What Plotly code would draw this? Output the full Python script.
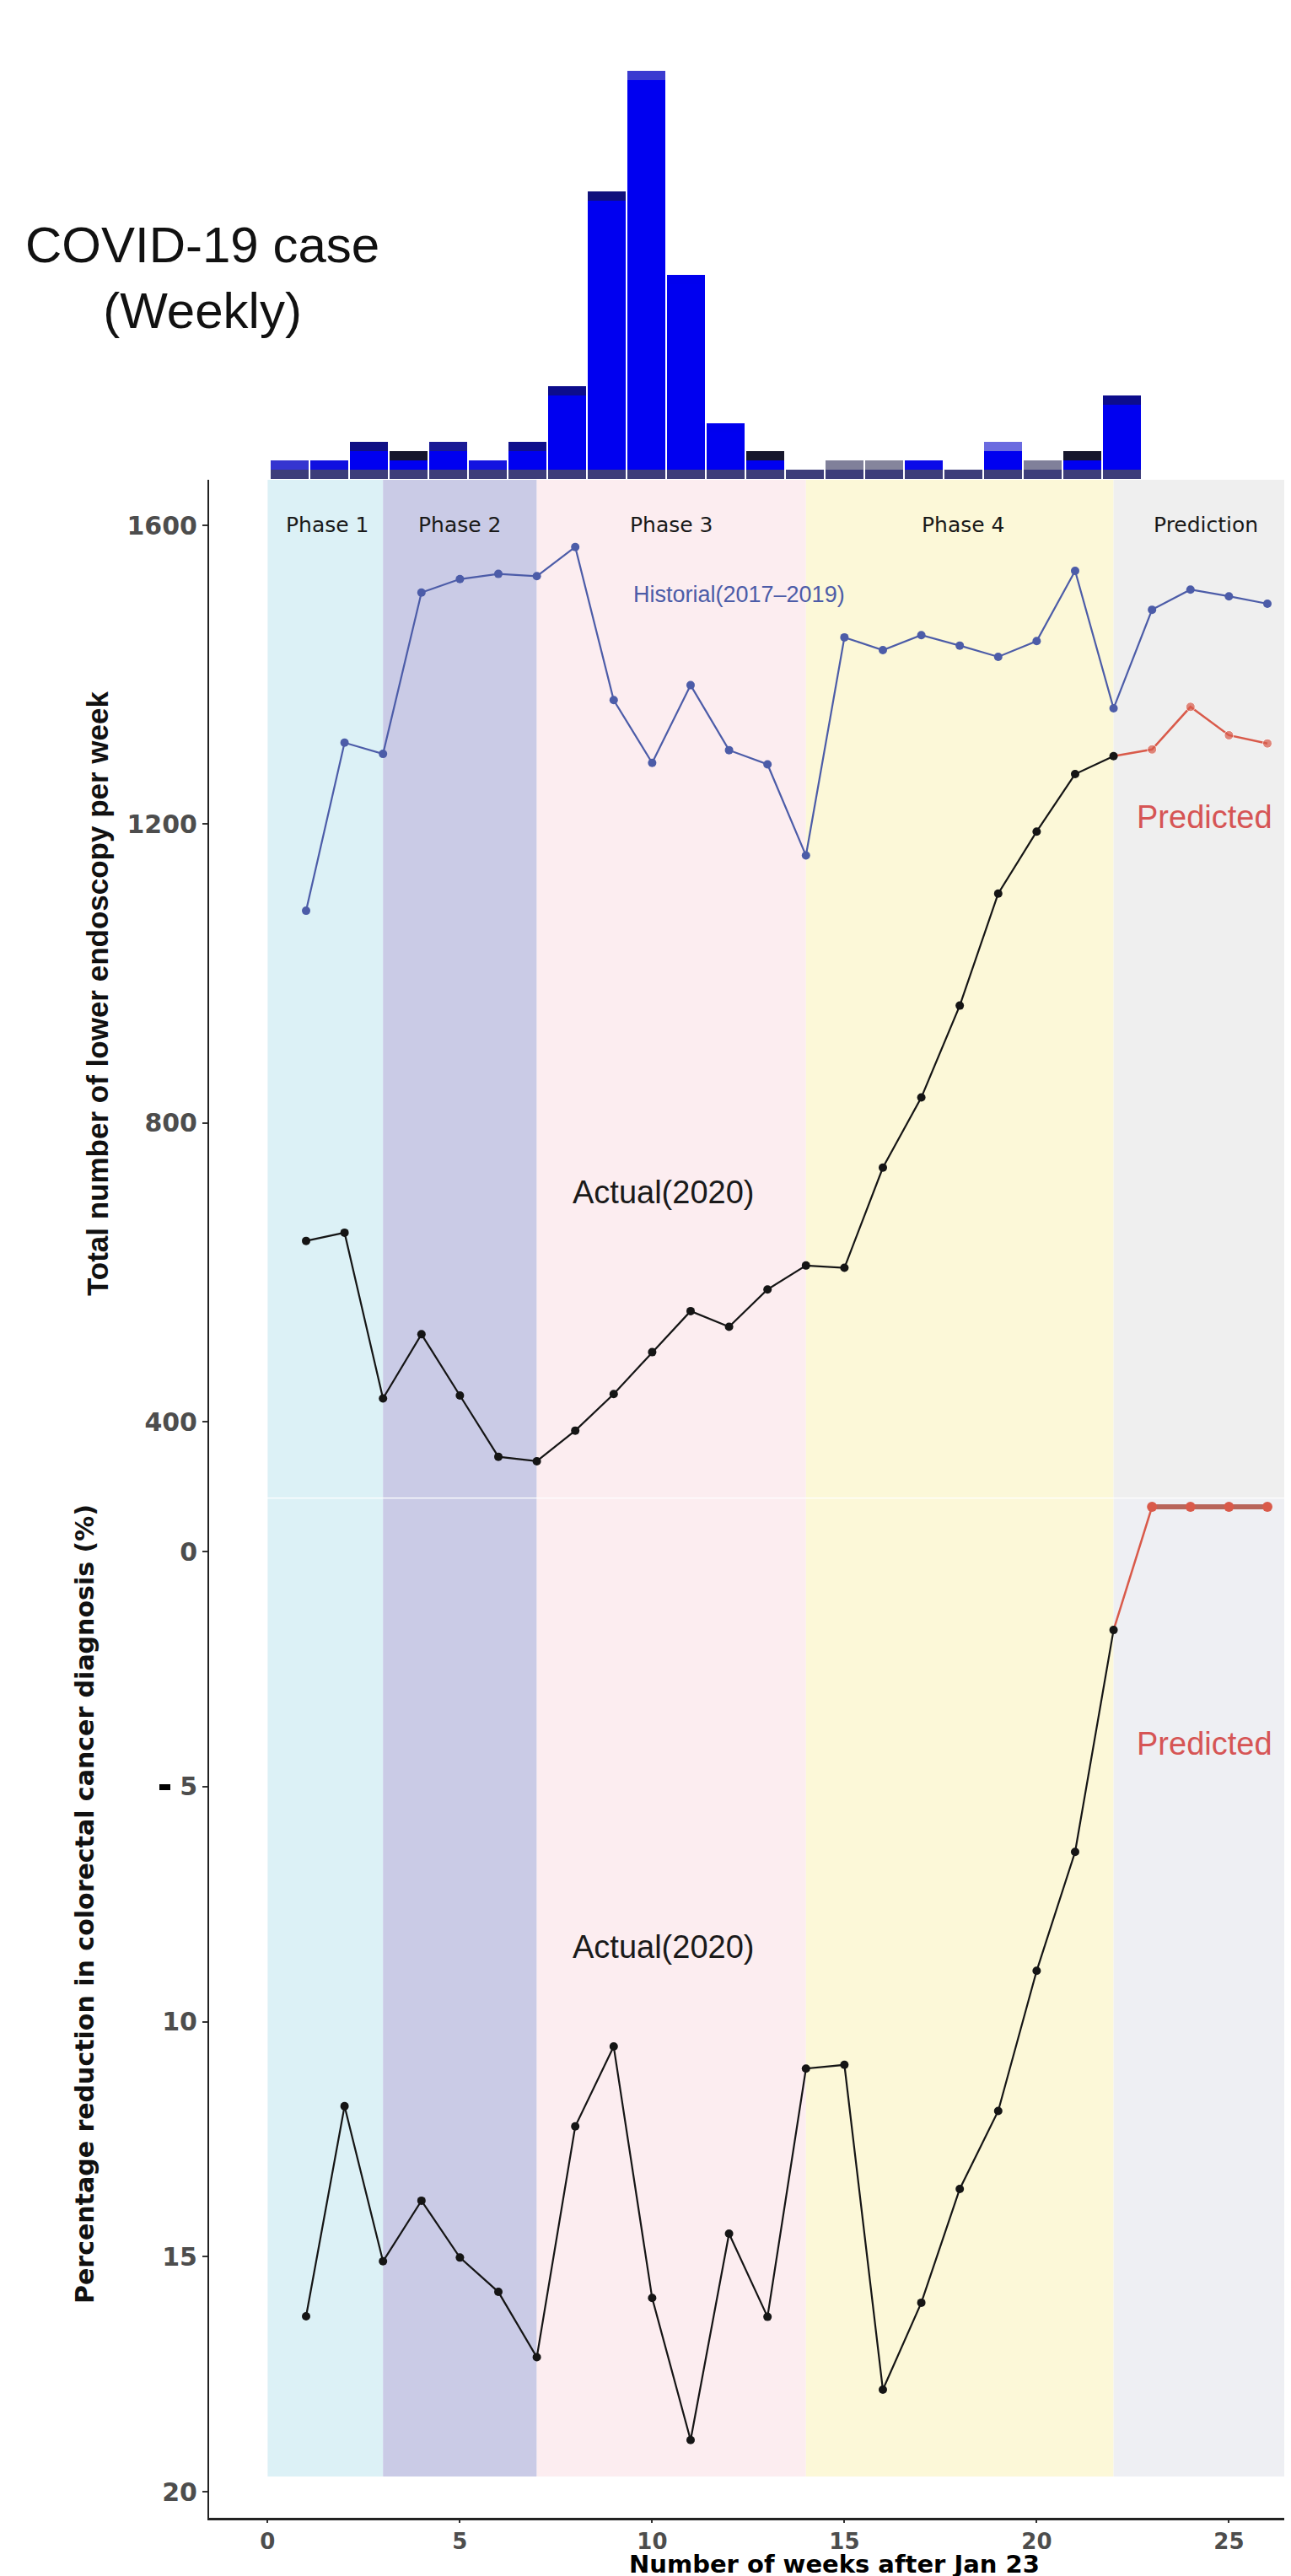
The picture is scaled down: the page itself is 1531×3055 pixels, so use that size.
import plotly.graph_objects as go

W, H = 1531, 3055

# ---------------- data ----------------
weeks = list(range(1, 23))            # weeks with observed data
pred_weeks = [23, 24, 25, 26]         # prediction weeks
hist_weeks = list(range(1, 27))

historical = [1084, 1309, 1294, 1510, 1528, 1535, 1532, 1571, 1366, 1282,
              1386, 1299, 1280, 1158, 1450, 1433, 1453, 1439, 1424, 1445,
              1539, 1355, 1487, 1514, 1505, 1495]
actual_endo = [642, 653, 431, 517, 435, 353, 347, 388, 437, 493,
               548, 527, 577, 609, 606, 740, 834, 957, 1107, 1190,
               1267, 1291]
pred_endo = [1300, 1357, 1319, 1308]

actual_crc = [16.27, 11.80, 15.10, 13.81, 15.02, 15.75, 17.14, 12.23, 10.53, 15.88,
              18.90, 14.51, 16.28, 11.00, 10.92, 17.83, 15.98, 13.56, 11.90, 8.92,
              6.39, 1.67]
pred_crc = [-0.95, -0.95, -0.95, -0.95]

# weekly COVID-19 cases (relative level, no axis in the original)
case_weeks = list(range(1, 23))
covid_cases = [2, 2, 4, 3, 4, 2, 4, 10, 31, 44, 22, 6, 3, 1, 2, 2, 2, 1, 4, 2, 3, 9]

phase_names = ["Phase 1", "Phase 2", "Phase 3", "Phase 4", "Prediction"]
phase_edges = [0, 3, 7, 14, 22, 26.6]

top_ticks = [400, 800, 1200, 1600]
bot_ticks = [0, 5, 10, 15, 20]
x_ticks = [0, 5, 10, 15, 20, 25]

# ---------------- styles ----------------
band_top = ["#dcf1f6", "#cacbe6", "#fcedf0", "#fcf8d8", "#efefef"]
band_bot = ["#dcf1f6", "#cacbe6", "#fcedf0", "#fcf8d8", "#eeeff3"]
cap_colors = ["#3535d0", "#1010e0", "#101085", "#16162c", "#1a1a95", "#1414e0", "#10108c",
              "#0c0c8c", "#10107c", "#3a3ad0", "#0000ee", "#0000ee", "#16162c", "#3d3d6a",
              "#80809a", "#85859c", "#0a0ae8", "#3d3d6a", "#6b6be0", "#80809a", "#16162c",
              "#0c0c8c"]
HIST_C = "#4c5ca8"
ACT_C = "#151515"
PRED_C = "#d95a4a"
SANS = "Liberation Sans, Arial, sans-serif"


def px(x):
    return x / W


def py(y):
    return 1 - y / H


fig = go.Figure()

# ---------------- COVID bars (stacked: base strip, body, cap) ----------------
base = [1 for _ in covid_cases]
body = [max(c - 2, 0) for c in covid_cases]
cap = [1 if c >= 2 else 0 for c in covid_cases]
fig.add_trace(go.Bar(x=case_weeks, y=base, marker=dict(color="#3d3d7a", line_width=0),
                     xaxis="x2", yaxis="y3", showlegend=False))
fig.add_trace(go.Bar(x=case_weeks, y=body, marker=dict(color="#0000f0", line_width=0),
                     xaxis="x2", yaxis="y3", showlegend=False))
fig.add_trace(go.Bar(x=case_weeks, y=cap, marker=dict(color=cap_colors, line_width=0),
                     xaxis="x2", yaxis="y3", showlegend=False))

# ---------------- top panel lines ----------------
fig.add_trace(go.Scatter(x=hist_weeks, y=historical, mode="lines+markers",
                         line=dict(color=HIST_C, width=2.2),
                         marker=dict(color=HIST_C, size=10),
                         xaxis="x", yaxis="y", showlegend=False))
fig.add_trace(go.Scatter(x=[weeks[-1]] + pred_weeks, y=[actual_endo[-1]] + pred_endo,
                         mode="lines+markers", line=dict(color=PRED_C, width=2.5),
                         marker=dict(color=PRED_C, size=[0] + [11] * len(pred_weeks)),
                         xaxis="x", yaxis="y", showlegend=False))
fig.add_trace(go.Scatter(x=weeks, y=actual_endo, mode="lines+markers",
                         line=dict(color=ACT_C, width=2.2),
                         marker=dict(color=ACT_C, size=10),
                         xaxis="x", yaxis="y", showlegend=False))

# ---------------- bottom panel lines ----------------
fig.add_trace(go.Scatter(x=[weeks[-1]] + pred_weeks, y=[actual_crc[-1]] + pred_crc,
                         mode="lines", line=dict(color=PRED_C, width=2.5),
                         xaxis="x", yaxis="y2", showlegend=False))
fig.add_trace(go.Scatter(x=pred_weeks, y=pred_crc, mode="lines+markers",
                         line=dict(color="#b8655a", width=6),
                         marker=dict(color=PRED_C, size=12),
                         xaxis="x", yaxis="y2", showlegend=False))
fig.add_trace(go.Scatter(x=weeks, y=actual_crc, mode="lines+markers",
                         line=dict(color=ACT_C, width=2.2),
                         marker=dict(color=ACT_C, size=10),
                         xaxis="x", yaxis="y2", showlegend=False))

# ---------------- phase bands ----------------
shapes = []
for i in range(len(phase_names)):
    shapes.append(dict(type="rect", xref="x", yref="y domain",
                       x0=phase_edges[i], x1=phase_edges[i + 1], y0=0, y1=1,
                       fillcolor=band_top[i], line_width=0, layer="below"))
    shapes.append(dict(type="rect", xref="x", yref="y2 domain",
                       x0=phase_edges[i], x1=phase_edges[i + 1], y0=0.0405, y1=0.999,
                       fillcolor=band_bot[i], line_width=0, layer="below"))
# small black dash next to the "5" tick
shapes.append(dict(type="rect", xref="paper", yref="paper",
                   x0=px(181), x1=px(194), y0=py(2115), y1=py(2108),
                   fillcolor="black", line_width=0))

# ---------------- annotations ----------------
ann = []
ann.append(dict(text="COVID-19 case<br>(Weekly)", x=px(232), y=py(322), xref="paper", yref="paper",
                showarrow=False, font=dict(family=SANS, size=60, color="#111111"),
                xanchor="center", yanchor="middle"))
label_x = [1.55, 5.0, 10.5, 18.1, 24.4]
for name, lx in zip(phase_names, label_x):
    ann.append(dict(text=name, x=lx, y=py(615), xref="x", yref="paper", showarrow=False,
                    font=dict(family="DejaVu Sans", size=25, color="#1a1a1a"),
                    xanchor="center", yanchor="middle"))
ann.append(dict(text="Historial(2017–2019)", x=px(868), y=py(697), xref="paper", yref="paper",
                showarrow=False, font=dict(family=SANS, size=27, color=HIST_C),
                xanchor="center", yanchor="middle"))
for yy in (1406, 2301):
    ann.append(dict(text="Actual(2020)", x=px(778), y=py(yy), xref="paper", yref="paper",
                    showarrow=False, font=dict(family=SANS, size=38, color="#1a1a1a"),
                    xanchor="center", yanchor="middle"))
for yy in (961, 2060):
    ann.append(dict(text="Predicted", x=px(1420), y=py(yy), xref="paper", yref="paper",
                    showarrow=False, font=dict(family=SANS, size=38, color="#d65555"),
                    xanchor="center", yanchor="middle"))
ann.append(dict(text="Total number of lower endoscopy per week", x=px(107), y=py(1170),
                xref="paper", yref="paper", showarrow=False, textangle=-90,
                font=dict(family=SANS, size=35, color="#111111", weight="bold"),
                xanchor="center", yanchor="middle"))
ann.append(dict(text="Percentage reduction in colorectal cancer diagnosis (%)",
                x=px(92), y=py(2250), xref="paper", yref="paper", showarrow=False, textangle=-90,
                font=dict(family="DejaVu Sans", size=30, color="#111111", weight="bold"),
                xanchor="center", yanchor="middle"))
ann.append(dict(text="Number of weeks after Jan 23", x=px(981), y=py(3051),
                xref="paper", yref="paper", showarrow=False,
                font=dict(family="DejaVu Sans", size=29, color="#000000", weight="bold"),
                xanchor="center", yanchor="bottom", borderpad=0))

axis_common = dict(showgrid=False, zeroline=False, showline=True, linecolor="#222222",
                   linewidth=2, ticks="outside", ticklen=6, tickcolor="#333333", tickwidth=2)
y_tickfont = dict(family="DejaVu Sans", size=30, color="#4d4d4d", weight="bold")
x_tickfont = dict(family="DejaVu Sans", size=26, color="#4d4d4d", weight="bold")
x_lo = -1.522
x_hi = 26.79

fig.update_layout(
    width=W, height=H,
    margin=dict(l=0, r=0, t=0, b=0),
    paper_bgcolor="white", plot_bgcolor="rgba(0,0,0,0)",
    barmode="stack", bargap=0.06,
    showlegend=False,
    xaxis=dict(domain=[px(240), 1], range=[x_lo, x_hi], anchor="y2",
               tickvals=x_ticks, tickfont=x_tickfont,
               **{**axis_common, "linewidth": 3, "ticklen": 3}),
    yaxis=dict(domain=[py(1768), py(561)], range=[298.4, 1661], anchor="x",
               tickvals=top_ticks, tickfont=y_tickfont, **axis_common),
    yaxis2=dict(domain=[py(2978), py(1768)], range=[20.556, -1.148], anchor="x",
                tickvals=bot_ticks, tickfont=y_tickfont, **axis_common),
    xaxis2=dict(domain=[px(312), px(1346)], range=[0.5, 22.5], anchor="y3", visible=False),
    yaxis3=dict(domain=[py(560), 1], range=[0, 560 / 11], anchor="x2", visible=False),
    shapes=shapes,
    annotations=ann,
)

fig.write_html("out.html")
